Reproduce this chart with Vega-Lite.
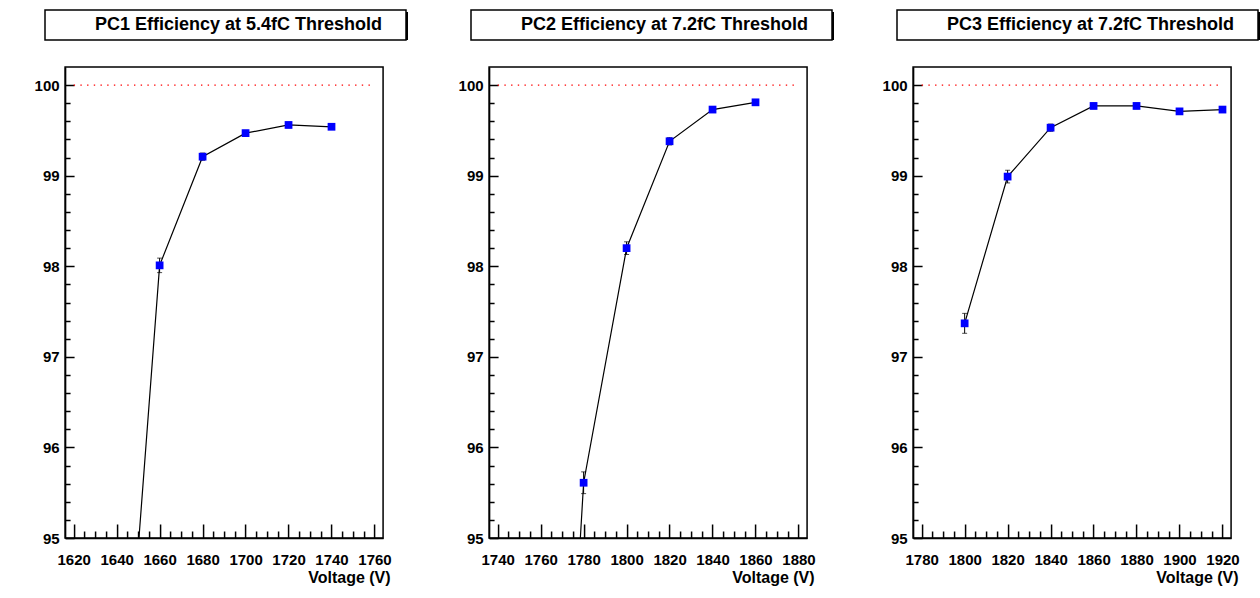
{
  "$schema": "https://vega.github.io/schema/vega-lite/v6.json",
  "padding": {"left": -9, "top": 9, "right": 5, "bottom": 5},
  "background": "white",
  "datasets": {
    "p1": [
      {"V": 1640, "E": 91.75},
      {"V": 1660, "E": 98.01, "lo": 97.93, "hi": 98.09},
      {"V": 1680, "E": 99.21, "lo": 99.17, "hi": 99.25},
      {"V": 1700, "E": 99.47, "lo": 99.44, "hi": 99.50},
      {"V": 1720, "E": 99.56, "lo": 99.53, "hi": 99.59},
      {"V": 1740, "E": 99.54, "lo": 99.51, "hi": 99.57}
    ],
    "p2": [
      {"V": 1760, "E": 87.6},
      {"V": 1780, "E": 95.61, "lo": 95.49, "hi": 95.73},
      {"V": 1800, "E": 98.20, "lo": 98.13, "hi": 98.27},
      {"V": 1820, "E": 99.38, "lo": 99.34, "hi": 99.42},
      {"V": 1840, "E": 99.73, "lo": 99.70, "hi": 99.76},
      {"V": 1860, "E": 99.81, "lo": 99.79, "hi": 99.83}
    ],
    "p3": [
      {"V": 1800, "E": 97.37, "lo": 97.26, "hi": 97.48},
      {"V": 1820, "E": 98.99, "lo": 98.92, "hi": 99.06},
      {"V": 1840, "E": 99.53, "lo": 99.49, "hi": 99.57},
      {"V": 1860, "E": 99.77, "lo": 99.74, "hi": 99.80},
      {"V": 1880, "E": 99.77, "lo": 99.74, "hi": 99.80},
      {"V": 1900, "E": 99.71, "lo": 99.68, "hi": 99.74},
      {"V": 1920, "E": 99.73, "lo": 99.70, "hi": 99.76}
    ],
    "r1": [{"x": 1620, "x2": 1759, "y": 100}],
    "r2": [{"x": 1740, "x2": 1879, "y": 100}],
    "r3": [{"x": 1780, "x2": 1919, "y": 100}],
    "t1": [{"t": "PC1 Efficiency at 5.4fC Threshold"}],
    "t2": [{"t": "PC2 Efficiency at 7.2fC Threshold"}],
    "t3": [{"t": "PC3 Efficiency at 7.2fC Threshold"}]
  },
  "spacing": 25,
  "center": true,
  "vconcat": [
    {
      "spacing": 62,
      "hconcat": [
        {
          "width": 361, "height": 30,
          "view": {"stroke": null},
          "data": {"name": "t1"},
          "layer": [
            {"mark": {"type": "rect", "fill": "black", "xOffset": 2, "x2Offset": 2, "yOffset": 2, "y2Offset": 2}},
            {"mark": {"type": "rect", "fill": "white", "stroke": "black", "strokeWidth": 1.5}},
            {"mark": {"type": "text", "font": "Liberation Sans", "fontWeight": "bold", "fontSize": 18, "color": "black", "dx": 13},
             "encoding": {"text": {"field": "t"}}}
          ]
        },
        {
          "width": 361, "height": 30,
          "view": {"stroke": null},
          "data": {"name": "t2"},
          "layer": [
            {"mark": {"type": "rect", "fill": "black", "xOffset": 2, "x2Offset": 2, "yOffset": 2, "y2Offset": 2}},
            {"mark": {"type": "rect", "fill": "white", "stroke": "black", "strokeWidth": 1.5}},
            {"mark": {"type": "text", "font": "Liberation Sans", "fontWeight": "bold", "fontSize": 18, "color": "black", "dx": 13},
             "encoding": {"text": {"field": "t"}}}
          ]
        },
        {
          "width": 361, "height": 30,
          "view": {"stroke": null},
          "data": {"name": "t3"},
          "layer": [
            {"mark": {"type": "rect", "fill": "black", "xOffset": 2, "x2Offset": 2, "yOffset": 2, "y2Offset": 2}},
            {"mark": {"type": "rect", "fill": "white", "stroke": "black", "strokeWidth": 1.5}},
            {"mark": {"type": "text", "font": "Liberation Sans", "fontWeight": "bold", "fontSize": 18, "color": "black", "dx": 13},
             "encoding": {"text": {"field": "t"}}}
          ]
        }
      ]
    },
    {
      "spacing": 59,
      "hconcat": [
        {
          "width": 318, "height": 471,
          "layer": [
            {
              "data": {"name": "r1"},
              "mark": {"type": "rule", "color": "red", "strokeWidth": 1.4, "strokeDash": [1.4, 5.3]},
              "encoding": {
                "x": {"field": "x", "type": "quantitative", "scale": {"domain": [1616, 1764], "nice": false, "zero": false},
                  "axis": {"values": [1620,1625,1630,1635,1640,1645,1650,1655,1660,1665,1670,1675,1680,1685,1690,1695,1700,1705,1710,1715,1720,1725,1730,1735,1740,1745,1750,1755,1760],
                    "tickCount": 200, "labelOverlap": false,
                    "format": "d", "labelExpr": "datum.value % 20 === 0 ? datum.label : ''",
                    "tickSize": {"condition": {"test": "datum.value % 20 === 0", "value": -14}, "value": -7},
                    "labelPadding": 28, "title": "Voltage (V)", "titleAnchor": "end", "titleAlign": "right", "titleX": 325, "titlePadding": -5}},
                "x2": {"field": "x2"},
                "y": {"field": "y", "type": "quantitative", "scale": {"domain": [95, 100.2], "nice": false, "zero": false},
                  "axis": {"values": [95,95.2,95.4,95.6,95.8,96,96.2,96.4,96.6,96.8,97,97.2,97.4,97.6,97.8,98,98.2,98.4,98.6,98.8,99,99.2,99.4,99.6,99.8,100],
                    "tickCount": 200, "labelOverlap": false, "minExtent": 73,
                    "labelExpr": "abs(datum.value - round(datum.value)) < 0.001 ? format(datum.value, 'd') : ''",
                    "tickSize": {"condition": {"test": "abs(datum.value - round(datum.value)) < 0.001", "value": -9}, "value": -5},
                    "labelPadding": 15, "title": null}}
              }
            },
            {
              "data": {"name": "p1"},
              "mark": {"type": "line", "color": "black", "strokeWidth": 1.2, "clip": true},
              "encoding": {"x": {"field": "V", "type": "quantitative"}, "y": {"field": "E", "type": "quantitative"}}
            },
            {
              "data": {"name": "p1"},
              "transform": [{"filter": "datum.lo != null"}],
              "mark": {"type": "errorbar", "clip": true, "rule": {"color": "black"}, "ticks": {"color": "black", "size": 5}},
              "encoding": {"x": {"field": "V", "type": "quantitative"}, "y": {"field": "lo", "type": "quantitative"}, "y2": {"field": "hi"}}
            },
            {
              "data": {"name": "p1"},
              "mark": {"type": "square", "color": "#0000ff", "opacity": 1, "size": 60, "clip": true},
              "encoding": {"x": {"field": "V", "type": "quantitative"}, "y": {"field": "E", "type": "quantitative"}}
            }
          ]
        },
        {
          "width": 318, "height": 471,
          "layer": [
            {
              "data": {"name": "r2"},
              "mark": {"type": "rule", "color": "red", "strokeWidth": 1.4, "strokeDash": [1.4, 5.3]},
              "encoding": {
                "x": {"field": "x", "type": "quantitative", "scale": {"domain": [1736, 1884], "nice": false, "zero": false},
                  "axis": {"values": [1740,1745,1750,1755,1760,1765,1770,1775,1780,1785,1790,1795,1800,1805,1810,1815,1820,1825,1830,1835,1840,1845,1850,1855,1860,1865,1870,1875,1880],
                    "tickCount": 200, "labelOverlap": false,
                    "format": "d", "labelExpr": "datum.value % 20 === 0 ? datum.label : ''",
                    "tickSize": {"condition": {"test": "datum.value % 20 === 0", "value": -14}, "value": -7},
                    "labelPadding": 28, "title": "Voltage (V)", "titleAnchor": "end", "titleAlign": "right", "titleX": 325, "titlePadding": -5}},
                "x2": {"field": "x2"},
                "y": {"field": "y", "type": "quantitative", "scale": {"domain": [95, 100.2], "nice": false, "zero": false},
                  "axis": {"values": [95,95.2,95.4,95.6,95.8,96,96.2,96.4,96.6,96.8,97,97.2,97.4,97.6,97.8,98,98.2,98.4,98.6,98.8,99,99.2,99.4,99.6,99.8,100],
                    "tickCount": 200, "labelOverlap": false, "minExtent": 37,
                    "labelExpr": "abs(datum.value - round(datum.value)) < 0.001 ? format(datum.value, 'd') : ''",
                    "tickSize": {"condition": {"test": "abs(datum.value - round(datum.value)) < 0.001", "value": -9}, "value": -5},
                    "labelPadding": 15, "title": null}}
              }
            },
            {
              "data": {"name": "p2"},
              "mark": {"type": "line", "color": "black", "strokeWidth": 1.2, "clip": true},
              "encoding": {"x": {"field": "V", "type": "quantitative"}, "y": {"field": "E", "type": "quantitative"}}
            },
            {
              "data": {"name": "p2"},
              "transform": [{"filter": "datum.lo != null"}],
              "mark": {"type": "errorbar", "clip": true, "rule": {"color": "black"}, "ticks": {"color": "black", "size": 5}},
              "encoding": {"x": {"field": "V", "type": "quantitative"}, "y": {"field": "lo", "type": "quantitative"}, "y2": {"field": "hi"}}
            },
            {
              "data": {"name": "p2"},
              "mark": {"type": "square", "color": "#0000ff", "opacity": 1, "size": 60, "clip": true},
              "encoding": {"x": {"field": "V", "type": "quantitative"}, "y": {"field": "E", "type": "quantitative"}}
            }
          ]
        },
        {
          "width": 318, "height": 471,
          "layer": [
            {
              "data": {"name": "r3"},
              "mark": {"type": "rule", "color": "red", "strokeWidth": 1.4, "strokeDash": [1.4, 5.3]},
              "encoding": {
                "x": {"field": "x", "type": "quantitative", "scale": {"domain": [1776, 1924], "nice": false, "zero": false},
                  "axis": {"values": [1780,1785,1790,1795,1800,1805,1810,1815,1820,1825,1830,1835,1840,1845,1850,1855,1860,1865,1870,1875,1880,1885,1890,1895,1900,1905,1910,1915,1920],
                    "tickCount": 200, "labelOverlap": false,
                    "format": "d", "labelExpr": "datum.value % 20 === 0 ? datum.label : ''",
                    "tickSize": {"condition": {"test": "datum.value % 20 === 0", "value": -14}, "value": -7},
                    "labelPadding": 28, "title": "Voltage (V)", "titleAnchor": "end", "titleAlign": "right", "titleX": 325, "titlePadding": -5}},
                "x2": {"field": "x2"},
                "y": {"field": "y", "type": "quantitative", "scale": {"domain": [95, 100.2], "nice": false, "zero": false},
                  "axis": {"values": [95,95.2,95.4,95.6,95.8,96,96.2,96.4,96.6,96.8,97,97.2,97.4,97.6,97.8,98,98.2,98.4,98.6,98.8,99,99.2,99.4,99.6,99.8,100],
                    "tickCount": 200, "labelOverlap": false, "minExtent": 37,
                    "labelExpr": "abs(datum.value - round(datum.value)) < 0.001 ? format(datum.value, 'd') : ''",
                    "tickSize": {"condition": {"test": "abs(datum.value - round(datum.value)) < 0.001", "value": -9}, "value": -5},
                    "labelPadding": 15, "title": null}}
              }
            },
            {
              "data": {"name": "p3"},
              "mark": {"type": "line", "color": "black", "strokeWidth": 1.2, "clip": true},
              "encoding": {"x": {"field": "V", "type": "quantitative"}, "y": {"field": "E", "type": "quantitative"}}
            },
            {
              "data": {"name": "p3"},
              "transform": [{"filter": "datum.lo != null"}],
              "mark": {"type": "errorbar", "clip": true, "rule": {"color": "black"}, "ticks": {"color": "black", "size": 5}},
              "encoding": {"x": {"field": "V", "type": "quantitative"}, "y": {"field": "lo", "type": "quantitative"}, "y2": {"field": "hi"}}
            },
            {
              "data": {"name": "p3"},
              "mark": {"type": "square", "color": "#0000ff", "opacity": 1, "size": 60, "clip": true},
              "encoding": {"x": {"field": "V", "type": "quantitative"}, "y": {"field": "E", "type": "quantitative"}}
            }
          ]
        }
      ]
    }
  ],
  "config": {
    "view": {"stroke": "black", "strokeWidth": 1.5},
    "axis": {
      "labelFont": "Liberation Sans", "labelFontWeight": "bold", "labelFontSize": 15, "labelColor": "black",
      "titleFont": "Liberation Sans", "titleFontWeight": "bold", "titleFontSize": 16, "titleColor": "black",
      "domainColor": "black", "domainWidth": 1.5, "tickColor": "black", "tickWidth": 1.5, "grid": false, "labelOverlap": false, "labelFlush": false, "labelBound": false
    }
  }
}
